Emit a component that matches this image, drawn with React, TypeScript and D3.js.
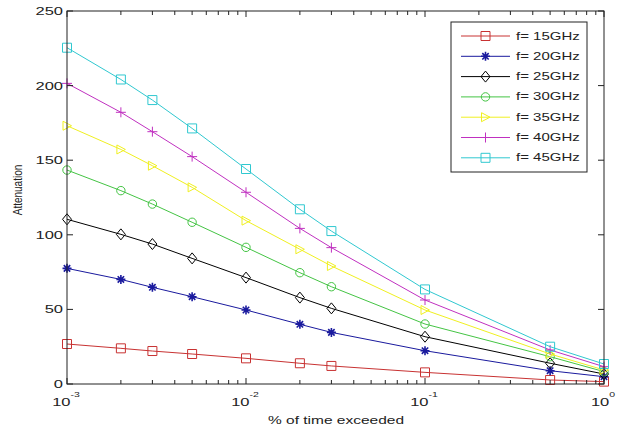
import React from "react";
import * as d3 from "d3";

const xValues = [0.001, 0.002, 0.003, 0.005, 0.01, 0.02, 0.03, 0.1, 0.5, 1];
const f15 = [26.8, 23.9, 22.1, 20.1, 17.2, 13.9, 12.1, 7.8, 2.7, 1.6];
const f20 = [77.5, 70.1, 64.8, 58.5, 49.6, 40.0, 34.6, 22.3, 8.9, 4.9];
const f25 = [110.4, 100.3, 93.8, 84.2, 71.3, 57.9, 50.7, 31.7, 13.9, 6.7];
const f30 = [143.4, 129.6, 120.6, 108.4, 91.6, 74.6, 65.2, 40.2, 18.3, 8.3];
const f35 = [173.1, 157.2, 146.3, 131.8, 109.5, 90.3, 79.1, 49.6, 20.1, 9.4];
const f40 = [201.5, 182.1, 169.1, 152.4, 128.5, 104.3, 91.4, 56.3, 22.8, 11.6];
const f45 = [225.4, 204.1, 190.3, 171.3, 144.1, 117.1, 102.5, 63.4, 25.0, 13.4];

const seriesLabels = ["f= 15GHz", "f= 20GHz", "f= 25GHz", "f= 30GHz", "f= 35GHz", "f= 40GHz", "f= 45GHz"];
const seriesValues = [f15, f20, f25, f30, f35, f40, f45];
const seriesColors = ["#c83232", "#1a1a9e", "#000000", "#44c444", "#f0f020", "#c030c0", "#30c8d0"];
const seriesMarkers = ["square", "asterisk", "diamond", "circle", "triRight", "plus", "square"];

const yTicks = [0, 50, 100, 150, 200, 250];
const xMajor = [0.001, 0.01, 0.1, 1];
const xMajorExp = ["-3", "-2", "-1", "0"];

const W = 621, H = 429;
const L = 67, R = 604, T = 11, B = 384;
const FONT = "'Liberation Sans', Arial, sans-serif";

function markerPath(type: string): string | null {
  switch (type) {
    case "square": return "M-4.5,-4.5H4.5V4.5H-4.5Z";
    case "asterisk": return "M-4.5,0H4.5M0,-4.5V4.5M-3.2,-3.2L3.2,3.2M-3.2,3.2L3.2,-3.2";
    case "diamond": return "M0,-5.5L4.5,0L0,5.5L-4.5,0Z";
    case "triRight": return "M-4,-4.5L4.5,0L-4,4.5Z";
    case "plus": return "M-5,0H5M0,-5V5";
    default: return null;
  }
}

function Marker({ type, x, y, color }: { type: string; x: number; y: number; color: string }) {
  if (type === "circle") {
    return <circle cx={x} cy={y} r={4.2} fill="none" stroke={color} strokeWidth={1} />;
  }
  const d = markerPath(type)!;
  return (
    <path
      d={d}
      transform={`translate(${x},${y})`}
      fill="none"
      stroke={color}
      strokeWidth={type === "asterisk" ? 1.6 : 1}
    />
  );
}

export default function App() {
  const x = d3.scaleLog().domain([1e-3, 1]).range([L, R]);
  const y = d3.scaleLinear().domain([0, 250]).range([B, T]);
  const line = d3
    .line<number>()
    .x((_, i) => x(xValues[i]))
    .y((d) => y(d));

  const minor: number[] = [];
  [1e-3, 1e-2, 1e-1].forEach((dec) => {
    for (let k = 2; k <= 9; k++) minor.push(dec * k);
  });

  const legX = 451, legY = 22, legW = 136, legH = 150;
  const rowY0 = 36, rowStep = 20.3;

  return (
    <svg
      width={W}
      height={H}
      style={{ position: "absolute", left: 0, top: 0, background: "#fff" }}
      fontFamily={FONT}
    >
      <rect x={0} y={0} width={W} height={H} fill="#fff" />
      {/* series */}
      {seriesValues.map((vals, si) => (
        <g key={si}>
          <path d={line(vals) || ""} fill="none" stroke={seriesColors[si]} strokeWidth={1} />
          {vals.map((v, i) => (
            <Marker key={i} type={seriesMarkers[si]} x={x(xValues[i])} y={y(v)} color={seriesColors[si]} />
          ))}
        </g>
      ))}
      {/* frame */}
      <rect x={L} y={T} width={R - L} height={B - T} fill="none" stroke="#222" strokeWidth={1} />
      {/* y ticks */}
      {yTicks.map((t) => (
        <g key={t}>
          <line x1={L} x2={L + 6} y1={y(t)} y2={y(t)} stroke="#222" />
          <line x1={R} x2={R - 6} y1={y(t)} y2={y(t)} stroke="#222" />
          <text
            transform={`translate(63,${y(t)}) scale(1.5,1)`}
            textAnchor="end"
            dominantBaseline="central"
            fontSize={11}
            fill="#222"
          >
            {t}
          </text>
        </g>
      ))}
      {/* x ticks */}
      {xMajor.map((t, i) => (
        <g key={t}>
          <line x1={x(t)} x2={x(t)} y1={B} y2={B - 6} stroke="#222" />
          <line x1={x(t)} x2={x(t)} y1={T} y2={T + 6} stroke="#222" />
          <text transform={`translate(${x(t) - 1},406) scale(1.5,1)`} textAnchor="middle" fontSize={11} fill="#222">
            <tspan>10</tspan>
            <tspan dy={-9} fontSize={7}>{xMajorExp[i]}</tspan>
          </text>
        </g>
      ))}
      {minor.map((t) => (
        <g key={t}>
          <line x1={x(t)} x2={x(t)} y1={B} y2={B - 4} stroke="#222" />
          <line x1={x(t)} x2={x(t)} y1={T} y2={T + 4} stroke="#222" />
        </g>
      ))}
      {/* axis labels */}
      <text transform={`translate(336,424) scale(1.55,1)`} textAnchor="middle" fontSize={10} fill="#222">
        % of time exceeded
      </text>
      <text transform={`translate(22,190) rotate(-90) scale(1,1.35)`} textAnchor="middle" fontSize={10} fill="#222">
        Attenuation
      </text>
      {/* legend */}
      <rect x={legX} y={legY} width={legW} height={legH} fill="#fff" stroke="#222" strokeWidth={1} />
      {seriesLabels.map((lab, i) => {
        const ry = rowY0 + i * rowStep;
        return (
          <g key={lab}>
            <line x1={461} x2={510} y1={ry} y2={ry} stroke={seriesColors[i]} strokeWidth={1} />
            <Marker type={seriesMarkers[i]} x={485.5} y={ry} color={seriesColors[i]} />
            <text
              transform={`translate(516,${ry}) scale(1.5,1)`}
              dominantBaseline="central"
              fontSize={10}
              fill="#222"
            >
              {lab}
            </text>
          </g>
        );
      })}
    </svg>
  );
}
